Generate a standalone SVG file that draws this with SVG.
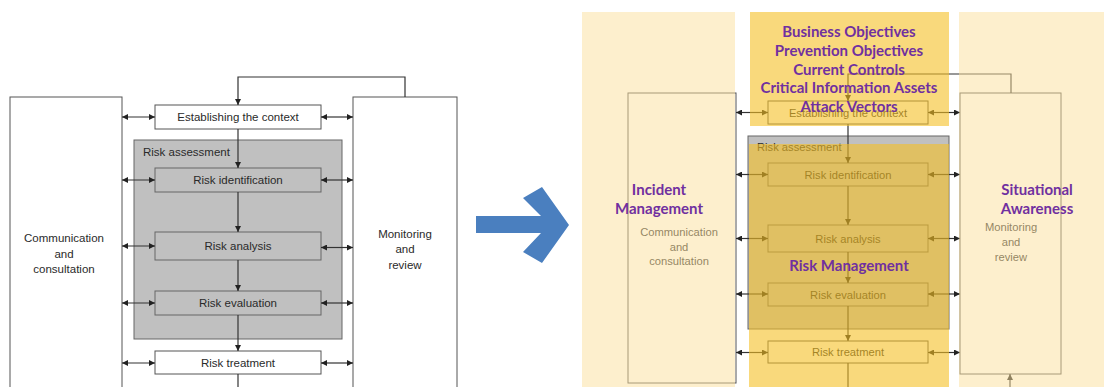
<svg xmlns="http://www.w3.org/2000/svg" width="1104" height="387" viewBox="0 0 1104 387">
  <style>
    .box { fill: #ffffff; stroke: #555555; stroke-width: 1; }
    .gbox { fill: #c0c0c0; stroke: #666666; stroke-width: 1; }
    .gray { fill: #c0c0c0; stroke: #666666; stroke-width: 1; }
    .wire { fill: none; stroke: #333333; stroke-width: 1.2; }
    .t { font-family: "Liberation Sans", Arial, sans-serif; font-size: 11.5px; fill: #2a2a2a; text-anchor: middle; }
    .tr { font-family: "Liberation Sans", Arial, sans-serif; font-size: 11.2px; fill: #2a2a2a; text-anchor: middle; }
    .tl { text-anchor: start; }
    .side { fill: #fbdf9b; opacity: 0.5; }
    .mid { fill: #f5c025; opacity: 0.6; }
    .hl { font-family: Lato, "Open Sans", sans-serif; font-weight: bold; font-size: 15px; fill: #7030a0; text-anchor: middle; }
  </style>
  <defs>
    <marker id="ah" markerUnits="userSpaceOnUse" markerWidth="7" markerHeight="6" refX="6" refY="3" orient="auto-start-reverse">
      <path d="M0,0 L6,3 L0,6 z" fill="#222222"/>
    </marker>
  </defs>

  <rect width="1104" height="387" fill="#ffffff"/>

  <!-- ===== Left: process diagram ===== -->
  <g id="comm-l">
    <rect class="box" x="10" y="97" width="112" height="300"/>
    <text class="t" x="64" y="242">Communication</text>
    <text class="t" x="64" y="257.5">and</text>
    <text class="t" x="64" y="273">consultation</text>
  </g>
  <g id="monitor-l">
    <rect class="box" x="353" y="97" width="104" height="300"/>
    <text class="t" x="405" y="238">Monitoring</text>
    <text class="t" x="405" y="253">and</text>
    <text class="t" x="405" y="268.5">review</text>
  </g>
  <g id="context-l">
    <rect class="box" x="155" y="105" width="166" height="24"/>
    <text class="t" x="238" y="121">Establishing the context</text>
  </g>
  <g id="assessment-l">
    <rect class="gbox" x="134" y="140" width="208" height="199"/>
    <text class="t tl" x="143" y="155.5">Risk assessment</text>
  </g>
  <g id="identification-l">
    <rect class="gray" x="155" y="168" width="166" height="24"/>
    <text class="t" x="238" y="184">Risk identification</text>
  </g>
  <g id="analysis-l">
    <rect class="gray" x="155" y="232" width="166" height="28"/>
    <text class="t" x="238" y="250">Risk analysis</text>
  </g>
  <g id="evaluation-l">
    <rect class="gray" x="155" y="291" width="166" height="24"/>
    <text class="t" x="238" y="307">Risk evaluation</text>
  </g>
  <g id="treatment-l">
    <rect class="box" x="155" y="351" width="166" height="23"/>
    <text class="t" x="238" y="366.5">Risk treatment</text>
  </g>
  <g id="connectors-l" class="wire">
    <path d="M405 97 V77 H238 V105" marker-end="url(#ah)"/>
    <path d="M238 129 V168" marker-end="url(#ah)"/>
    <path d="M238 192 V232" marker-end="url(#ah)"/>
    <path d="M238 260 V291" marker-end="url(#ah)"/>
    <path d="M238 315 V351" marker-end="url(#ah)"/>
    <path d="M238 374 V387"/>
    <path d="M122 117 H155" marker-start="url(#ah)" marker-end="url(#ah)"/>
    <path d="M122 180 H155" marker-start="url(#ah)" marker-end="url(#ah)"/>
    <path d="M122 246 H155" marker-start="url(#ah)" marker-end="url(#ah)"/>
    <path d="M122 303 H155" marker-start="url(#ah)" marker-end="url(#ah)"/>
    <path d="M122 363 H155" marker-start="url(#ah)" marker-end="url(#ah)"/>
    <path d="M321 117 H353" marker-start="url(#ah)" marker-end="url(#ah)"/>
    <path d="M321 180 H353" marker-start="url(#ah)" marker-end="url(#ah)"/>
    <path d="M321 247.5 H353" marker-start="url(#ah)" marker-end="url(#ah)"/>
    <path d="M321 303 H353" marker-start="url(#ah)" marker-end="url(#ah)"/>
    <path d="M321 363 H353" marker-start="url(#ah)" marker-end="url(#ah)"/>
  </g>

  <!-- Block arrow between the two versions -->
  <g id="transition-arrow">
    <polygon fill="#4a7fbf" points="476,216 541,216 523,198 542,187 569,225 542,263 523,252 541,233 476,233"/>
  </g>

  <!-- ===== Right: same process with capability overlays ===== -->
  <g id="comm-r">
    <rect class="box" x="628" y="93" width="108" height="290"/>
    <text class="tr" x="679" y="236">Communication</text>
    <text class="tr" x="679" y="250.5">and</text>
    <text class="tr" x="679" y="265">consultation</text>
  </g>
  <g id="monitor-r">
    <rect class="box" x="960" y="93" width="101" height="281"/>
    <text class="tr" x="1011" y="231">Monitoring</text>
    <text class="tr" x="1011" y="246">and</text>
    <text class="tr" x="1011" y="261">review</text>
  </g>
  <g id="context-r">
    <rect class="box" x="768" y="101" width="160" height="23"/>
    <text class="tr" x="848" y="116.5">Establishing the context</text>
  </g>
  <g id="assessment-r">
    <rect class="gbox" x="748" y="136" width="201" height="193"/>
    <text class="tr tl" x="757" y="150.5">Risk assessment</text>
  </g>
  <g id="identification-r">
    <rect class="gray" x="768" y="163" width="160" height="23"/>
    <text class="tr" x="848" y="178.5">Risk identification</text>
  </g>
  <g id="analysis-r">
    <rect class="gray" x="768" y="225" width="160" height="27"/>
    <text class="tr" x="848" y="242.5">Risk analysis</text>
  </g>
  <g id="evaluation-r">
    <rect class="gray" x="768" y="283" width="160" height="23"/>
    <text class="tr" x="848" y="298.5">Risk evaluation</text>
  </g>
  <g id="treatment-r">
    <rect class="box" x="768" y="341" width="160" height="22"/>
    <text class="tr" x="848" y="356">Risk treatment</text>
  </g>
  <g id="connectors-r" class="wire">
    <path d="M1011 93 V74 H848 V101" marker-end="url(#ah)"/>
    <path d="M848 124 V163" marker-end="url(#ah)"/>
    <path d="M848 186 V225" marker-end="url(#ah)"/>
    <path d="M848 252 V283" marker-end="url(#ah)"/>
    <path d="M848 306 V341" marker-end="url(#ah)"/>
    <path d="M848 363 V387"/>
    <path d="M1010 387 V374" marker-end="url(#ah)"/>
    <path d="M736 112.5 H768" marker-start="url(#ah)" marker-end="url(#ah)"/>
    <path d="M736 174.5 H768" marker-start="url(#ah)" marker-end="url(#ah)"/>
    <path d="M736 238.5 H768" marker-start="url(#ah)" marker-end="url(#ah)"/>
    <path d="M736 294 H768" marker-start="url(#ah)" marker-end="url(#ah)"/>
    <path d="M736 352.5 H768" marker-start="url(#ah)" marker-end="url(#ah)"/>
    <path d="M928 112.5 H960" marker-start="url(#ah)" marker-end="url(#ah)"/>
    <path d="M928 174.5 H960" marker-start="url(#ah)" marker-end="url(#ah)"/>
    <path d="M928 238.5 H960" marker-start="url(#ah)" marker-end="url(#ah)"/>
    <path d="M928 294 H960" marker-start="url(#ah)" marker-end="url(#ah)"/>
    <path d="M928 352.5 H960" marker-start="url(#ah)" marker-end="url(#ah)"/>
  </g>

  <!-- Translucent capability columns -->
  <g id="incident-panel">
    <rect class="side" x="582" y="12" width="153" height="375"/>
  </g>
  <g id="risk-panel">
    <rect class="mid" x="750" y="12" width="199" height="114"/>
    <rect class="mid" x="749" y="144" width="200" height="243"/>
  </g>
  <g id="awareness-panel">
    <rect class="side" x="959" y="12" width="145" height="375"/>
  </g>

  <!-- Capability labels -->
  <g id="risk-inputs">
    <text class="hl" x="849" y="37">Business Objectives</text>
    <text class="hl" x="849" y="56">Prevention Objectives</text>
    <text class="hl" x="849" y="74.5">Current Controls</text>
    <text class="hl" x="849" y="93">Critical Information Assets</text>
    <text class="hl" x="849" y="112">Attack Vectors</text>
  </g>
  <g id="incident-label">
    <text class="hl" x="659" y="195">Incident</text>
    <text class="hl" x="659" y="214">Management</text>
  </g>
  <g id="awareness-label">
    <text class="hl" x="1037" y="195">Situational</text>
    <text class="hl" x="1037" y="214">Awareness</text>
  </g>
  <g id="risk-label">
    <text class="hl" x="849" y="271">Risk Management</text>
  </g>
</svg>
